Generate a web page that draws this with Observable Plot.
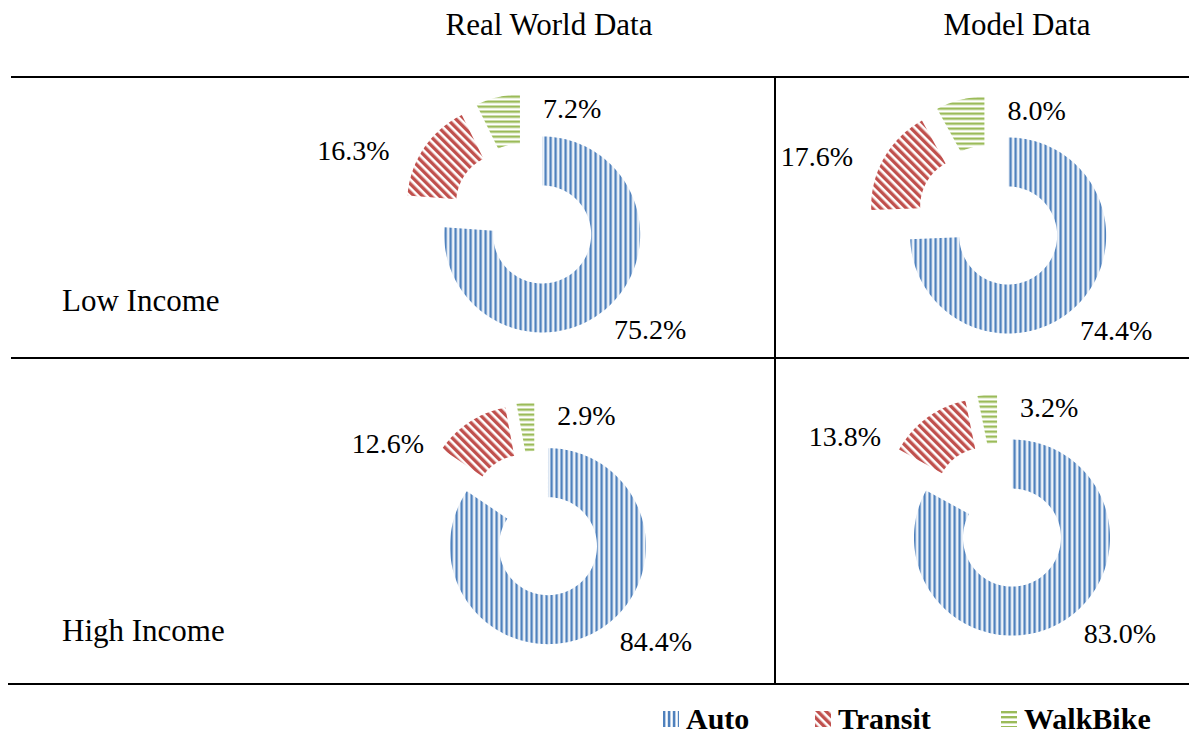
<!DOCTYPE html>
<html>
<head>
<meta charset="utf-8">
<script src="https://cdn.jsdelivr.net/npm/d3@7"></script>
<script src="https://cdn.jsdelivr.net/npm/@observablehq/plot@0.6"></script>
<style>
  html, body { margin: 0; padding: 0; background: #fff; }
  #page { position: relative; width: 1189px; height: 736px; overflow: hidden;
          font-family: "Liberation Serif", "DejaVu Serif", serif; color: #000; }
  .txt { position: absolute; font-size: 31px; line-height: 30px; white-space: nowrap; }
  .center { transform: translateX(-50%); }
  .rule { position: absolute; background: #000; }
  .legend-item { position: absolute; top: 702px; height: 33px; display: flex; align-items: center;
            font-size: 30px; line-height: 33px; font-weight: bold; white-space: nowrap; }
  .legend-item svg { margin-right: 7px; flex: none; }
</style>
</head>
<body>
<div id="page">
  <svg width="0" height="0" style="position:absolute">
    <defs>
      <pattern id="pat-Auto" patternUnits="userSpaceOnUse" width="5" height="5">
        <rect width="5" height="5" fill="#ffffff"/>
        <rect x="0" width="2" height="5" fill="#4f81bd"/>
        <rect x="2" width="1" height="5" fill="#b9cde5"/>
        <rect x="4" width="1" height="5" fill="#dce6f2"/>
      </pattern>
      <pattern id="pat-Transit" patternUnits="userSpaceOnUse" width="6" height="6" patternTransform="rotate(-45)">
        <rect width="6" height="6" fill="#ffffff"/>
        <rect x="0" width="3" height="6" fill="#c0504d"/>
        <rect x="3" width="1" height="6" fill="#e6b9b8"/>
      </pattern>
      <pattern id="pat-WalkBike" patternUnits="userSpaceOnUse" width="5" height="5">
        <rect width="5" height="5" fill="#ffffff"/>
        <rect y="0" width="5" height="2" fill="#9bbb59"/>
        <rect y="2" width="5" height="1" fill="#d7e4bd"/>
      </pattern>
    </defs>
  </svg>
  <div class="rule" style="left:11px;top:76px;width:1178px;height:2px"></div>
  <div class="rule" style="left:11px;top:357px;width:1178px;height:2px"></div>
  <div class="rule" style="left:8px;top:683px;width:1181px;height:2px"></div>
  <div class="rule" style="left:774px;top:77px;width:2px;height:607px"></div>
  <div id="headers"></div>
  <div id="rows"></div>
  <div id="charts"></div>
  <div id="legend"></div>
</div>
<script>
// ---------- data ----------
const categories = ["Auto", "Transit", "WalkBike"];
const columnTitles = ["Real World Data", "Model Data"];
const rowTitles = ["Low Income", "High Income"];
const realWorldLow = [75.2, 16.3, 7.2];
const modelLow = [74.4, 17.6, 8.0];
const realWorldHigh = [84.4, 12.6, 2.9];
const modelHigh = [83.0, 13.8, 3.2];

// ---------- layout (page positions, not data) ----------
const headerCenters = [[549, 10], [1017, 10]];
const rowLabelPos = [[62, 286], [62, 616]];
const legendLefts = [663, 815, 1001];
const panels = [
  {values: realWorldLow, cx: 525, cy: 216},
  {values: modelLow, cx: 990, cy: 218},
  {values: realWorldHigh, cx: 535.5, cy: 523.5},
  {values: modelHigh, cx: 998.5, cy: 516}
];

const K = 98;           // pixels per unit radius
const HALF = 2;         // half extent of the plot domain (units)
const R_OUT = 1, R_IN = 0.5, EXPLODE = 0.25;
const FONT = '"Liberation Serif", "DejaVu Serif", serif';

function slicesOf(values) {
  const total = d3.sum(values);
  let acc = 0;
  return values.map((v, i) => {
    const a0 = acc / total * 2 * Math.PI;
    acc += v;
    const a1 = acc / total * 2 * Math.PI;
    const mid = (a0 + a1) / 2;
    const ox = EXPLODE * Math.sin(mid), oy = EXPLODE * Math.cos(mid);
    const n = Math.max(2, Math.ceil((a1 - a0) / (Math.PI / 180)));
    const pts = [];
    for (let j = 0; j <= n; j++) {
      const a = a0 + (a1 - a0) * j / n;
      pts.push({x: ox + R_OUT * Math.sin(a), y: oy + R_OUT * Math.cos(a)});
    }
    for (let j = n; j >= 0; j--) {
      const a = a0 + (a1 - a0) * j / n;
      pts.push({x: ox + R_IN * Math.sin(a), y: oy + R_IN * Math.cos(a)});
    }
    const [minX, maxX] = d3.extent(pts, d => d.x);
    const [minY, maxY] = d3.extent(pts, d => d.y);
    return {cat: categories[i], value: v, pts, minX, maxX, minY, maxY};
  });
}

function fmt(v) { return v.toFixed(1) + "%"; }

function donut(values) {
  const s = slicesOf(values);
  const [auto, transit, walk] = s;
  const px = p => p / K;
  const autoLabel = [{x: auto.maxX + px(10), y: auto.minY + px(2), t: fmt(auto.value)}];
  const transitLabel = [{x: transit.minX - px(18), y: transit.maxY - px(36), t: fmt(transit.value)}];
  const walkLabel = [{x: walk.maxX + px(23), y: walk.maxY - px(14), t: fmt(walk.value)}];
  const textOpts = {x: "x", y: "y", text: "t", fontSize: 28, fontFamily: FONT, fill: "#000"};
  return Plot.plot({
    width: 2 * HALF * K, height: 2 * HALF * K,
    margin: 0,
    x: {domain: [-HALF, HALF], axis: null},
    y: {domain: [-HALF, HALF], axis: null},
    style: {background: "none", overflow: "visible", fontFamily: FONT},
    marks: [
      ...s.map(sl => Plot.line(sl.pts, {x: "x", y: "y", fill: `url(#pat-${sl.cat})`, stroke: "none", curve: "linear"})),
      Plot.text(autoLabel, {...textOpts, textAnchor: "middle"}),
      Plot.text(transitLabel, {...textOpts, textAnchor: "end"}),
      Plot.text(walkLabel, {...textOpts, textAnchor: "start"})
    ]
  });
}

const charts = document.getElementById("charts");
panels.forEach(p => {
  const svg = donut(p.values);
  svg.style.position = "absolute";
  svg.style.left = (p.cx - HALF * K) + "px";
  svg.style.top = (p.cy - HALF * K) + "px";
  svg.style.maxWidth = "none";
  charts.appendChild(svg);
});

const headers = document.getElementById("headers");
columnTitles.forEach((t, i) => {
  const d = document.createElement("div");
  d.className = "txt center";
  d.style.left = headerCenters[i][0] + "px";
  d.style.top = headerCenters[i][1] + "px";
  d.textContent = t;
  headers.appendChild(d);
});
const rows = document.getElementById("rows");
rowTitles.forEach((t, i) => {
  const d = document.createElement("div");
  d.className = "txt";
  d.style.left = rowLabelPos[i][0] + "px";
  d.style.top = rowLabelPos[i][1] + "px";
  d.textContent = t;
  rows.appendChild(d);
});

const legend = document.getElementById("legend");
categories.forEach((c, i) => {
  const item = document.createElement("div");
  item.className = "legend-item";
  item.style.left = legendLefts[i] + "px";
  item.innerHTML = `<svg width="16" height="16"><rect width="16" height="16" fill="url(#pat-${c})"/></svg><span>${c}</span>`;
  legend.appendChild(item);
});
</script>
</body>
</html>
